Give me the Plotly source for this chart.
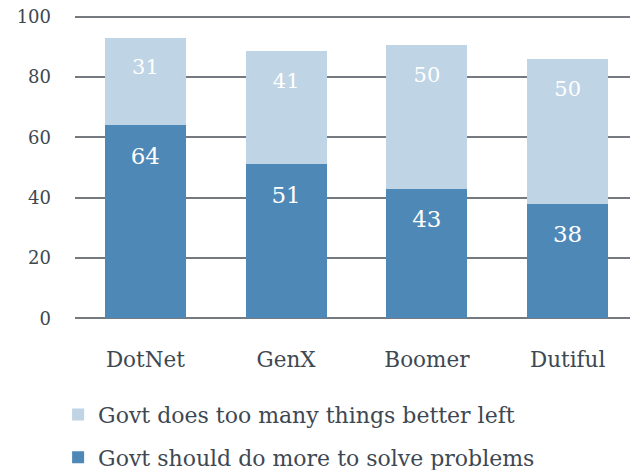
import plotly.graph_objects as go

categories = ["DotNet", "GenX", "Boomer", "Dutiful"]
solve_values = [64, 51, 43, 38]
solve_labels = ["64", "51", "43", "38"]
toomany_values = [29, 37.5, 47.5, 48]
toomany_labels = ["31", "41", "50", "50"]
y_ticks = [0, 20, 40, 60, 80, 100]

FONT = "DejaVu Serif"
TXT = "#3d4852"

fig = go.Figure()
fig.add_trace(go.Bar(
    x=categories, y=solve_values, name="Govt should do more to solve problems",
    marker=dict(color="#4e88b6", line=dict(width=0)),
    text=solve_labels, textposition="inside", insidetextanchor="end",
    texttemplate="&#160;<br><span style='font-size:23px'>%{text}</span>",
    textfont=dict(family=FONT, size=16, color="white"),
    legendgroup="solve", legendrank=2,
))
fig.add_trace(go.Bar(
    x=categories, y=toomany_values, name="Govt does too many things better left",
    marker=dict(color="#bfd4e5", line=dict(width=0)),
    text=toomany_labels, textposition="inside", insidetextanchor="end",
    texttemplate="&#160;<br><span style='font-size:21px'>%{text}</span>",
    textfont=dict(family=FONT, size=15, color="white"),
    legendgroup="toomany", legendrank=1,
))
fig.update_layout(
    width=630, height=462, barmode="stack", bargap=0.424,
    margin=dict(l=67, r=0, t=7, b=150, autoexpand=False),
    paper_bgcolor="white", plot_bgcolor="white",
    font=dict(family=FONT, color=TXT, size=20),
    uniformtext=dict(mode=False),
    xaxis=dict(showgrid=False, showline=False, ticks="", tickfont=dict(size=21.5),
               ticklabelstandoff=24, automargin=False),
    yaxis=dict(range=[-0.6, 100.6], tickvals=y_ticks, showgrid=True, gridcolor="#747a80",
               gridwidth=1.5, zeroline=False, showline=False, ticks="",
               tickfont=dict(size=18), ticklabelstandoff=23, automargin=False,
               ticklabeloverflow="allow"),
    legend=dict(orientation="v", x=-0.03, xanchor="left", y=-0.242, yanchor="top",
                font=dict(size=22), traceorder="grouped", tracegroupgap=11,
                itemsizing="constant"),
    showlegend=True,
)
fig.write_html("out.html")
